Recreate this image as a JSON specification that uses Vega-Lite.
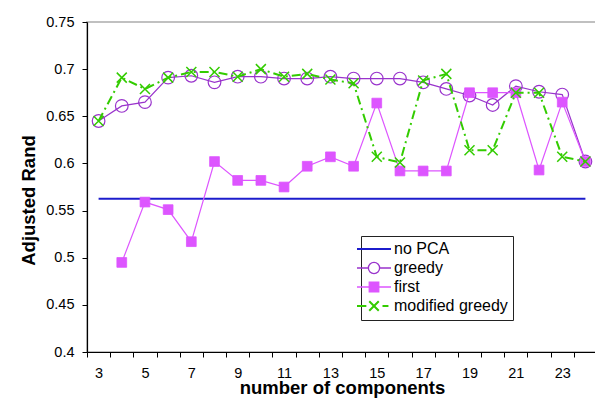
{
  "$schema": "https://vega.github.io/schema/vega-lite/v6.json",
  "autosize": "none",
  "width": 510,
  "height": 330,
  "padding": {"left": 87, "top": 22, "right": 0, "bottom": 52},
  "background": "white",
  "config": {
    "view": {"stroke": "#c0c0c0", "strokeWidth": 2},
    "font": "Liberation Sans",
    "axis": {"labelFont": "Liberation Sans", "titleFont": "Liberation Sans", "labelColor": "black", "titleColor": "black", "domainColor": "black", "tickColor": "black", "grid": false},
    "legend": {
      "orient": "none", "legendX": 274, "legendY": 214,
      "fillColor": "white", "strokeColor": "#222222", "padding": 5,
      "labelFont": "Liberation Sans", "labelFontSize": 16, "labelColor": "black",
      "labelOffset": 12, "rowPadding": 2, "symbolSize": 1156, "labelLimit": 200
    }
  },
  "datasets": {
    "nopca": [{"n": 3, "value": 0.5626}, {"n": 24, "value": 0.5626}],
    "greedy": [
      {"n": 3, "value": 0.645}, {"n": 4, "value": 0.661}, {"n": 5, "value": 0.665}, {"n": 6, "value": 0.691},
      {"n": 7, "value": 0.693}, {"n": 8, "value": 0.686}, {"n": 9, "value": 0.692}, {"n": 10, "value": 0.692},
      {"n": 11, "value": 0.690}, {"n": 12, "value": 0.690}, {"n": 13, "value": 0.692}, {"n": 14, "value": 0.690},
      {"n": 15, "value": 0.690}, {"n": 16, "value": 0.690}, {"n": 17, "value": 0.686}, {"n": 18, "value": 0.679},
      {"n": 19, "value": 0.672}, {"n": 20, "value": 0.662}, {"n": 21, "value": 0.682}, {"n": 22, "value": 0.676},
      {"n": 23, "value": 0.673}, {"n": 24, "value": 0.602}
    ],
    "first": [
      {"n": 4, "value": 0.495}, {"n": 5, "value": 0.559}, {"n": 6, "value": 0.551},
      {"n": 7, "value": 0.517}, {"n": 8, "value": 0.602}, {"n": 9, "value": 0.582}, {"n": 10, "value": 0.582},
      {"n": 11, "value": 0.575}, {"n": 12, "value": 0.597}, {"n": 13, "value": 0.607}, {"n": 14, "value": 0.597},
      {"n": 15, "value": 0.664}, {"n": 16, "value": 0.592}, {"n": 17, "value": 0.592}, {"n": 18, "value": 0.592},
      {"n": 19, "value": 0.675}, {"n": 20, "value": 0.675}, {"n": 21, "value": 0.675}, {"n": 22, "value": 0.593},
      {"n": 23, "value": 0.665}, {"n": 24, "value": 0.602}
    ],
    "modified": [
      {"n": 3, "value": 0.645}, {"n": 4, "value": 0.691}, {"n": 5, "value": 0.679}, {"n": 6, "value": 0.691},
      {"n": 7, "value": 0.697}, {"n": 8, "value": 0.697}, {"n": 9, "value": 0.692}, {"n": 10, "value": 0.700},
      {"n": 11, "value": 0.692}, {"n": 12, "value": 0.695}, {"n": 13, "value": 0.689}, {"n": 14, "value": 0.685},
      {"n": 15, "value": 0.607}, {"n": 16, "value": 0.601}, {"n": 17, "value": 0.688}, {"n": 18, "value": 0.695},
      {"n": 19, "value": 0.614}, {"n": 20, "value": 0.614}, {"n": 21, "value": 0.675}, {"n": 22, "value": 0.675},
      {"n": 23, "value": 0.607}, {"n": 24, "value": 0.602}
    ]
  },
  "encoding": {
    "x": {
      "field": "n", "type": "quantitative",
      "scale": {"domain": [2.5, 24.5], "nice": false, "zero": false},
      "axis": {
        "title": "number of components",
        "titleFontSize": 18.5, "titleFontWeight": "bold",
        "titleX": 255, "titleY": 41, "titleBaseline": "alphabetic", "titleAlign": "center",
        "values": [2.5, 3.5, 4.5, 5.5, 6.5, 7.5, 8.5, 9.5, 10.5, 11.5, 12.5, 13.5, 14.5, 15.5, 16.5, 17.5, 18.5, 19.5, 20.5, 21.5, 22.5, 23.5],
        "labelExpr": "(datum.value - 2.5) % 2 == 0 ? toString(datum.value + 0.5) : ''",
        "labelOffset": 11.6, "labelFontSize": 14.5, "labelPadding": 9,
        "tickSize": 5, "domainWidth": 1.2, "labelFlush": false, "labelOverlap": false
      }
    },
    "y": {
      "field": "value", "type": "quantitative",
      "scale": {"domain": [0.4, 0.75], "nice": false, "zero": false},
      "axis": {
        "title": "Adjusted Rand",
        "titleFontSize": 18.5, "titleFontWeight": "bold",
        "titleX": -53, "titleY": 178, "titleBaseline": "alphabetic", "titleAlign": "center", "titleAngle": -90,
        "values": [0.4, 0.45, 0.5, 0.55, 0.6, 0.65, 0.7, 0.75],
        "format": "~g", "labelFontSize": 14.5, "labelPadding": 8,
        "tickSize": 5, "domainWidth": 1.2, "labelFlush": false, "labelOverlap": false
      }
    }
  },
  "layer": [
    {
      "data": {"name": "nopca"},
      "mark": {"type": "line", "strokeWidth": 2},
      "encoding": {
        "color": {
          "datum": "no PCA", "type": "nominal",
          "scale": {"domain": ["no PCA", "greedy", "first", "modified greedy"], "range": ["#1c1ccc", "#9933cc", "#dd55ff", "#33cc00"]},
          "legend": {
            "title": null,
            "encode": {
              "symbols": {
                "update": {
                  "shape": {"signal": "datum.value === 'no PCA' ? 'M-1,0L1,0' : datum.value === 'greedy' ? 'M-1,0L-0.33,0M0.33,0L1,0M0.33,0A0.33,0.33 0 1,1 -0.33,0A0.33,0.33 0 1,1 0.33,0' : datum.value === 'first' ? 'M-1,0L1,0M-0.28,-0.28L0.28,-0.28L0.28,0.28L-0.28,0.28Z' : 'M-1,0L-0.45,0M-0.28,-0.28L0.28,0.28M-0.28,0.28L0.28,-0.28M0.5,0L0.85,0'"},
                  "fill": {"signal": "datum.value === 'first' ? '#dd55ff' : 'transparent'"},
                  "strokeWidth": {"signal": "datum.value === 'greedy' || datum.value === 'first' ? 1.3 : 2"},
                  "size": {"value": 1156},
                  "strokeDash": {"value": []},
                  "opacity": {"value": 1}
                }
              }
            }
          }
        }
      }
    },
    {
      "data": {"name": "greedy"},
      "mark": {"type": "line", "strokeWidth": 1.2},
      "encoding": {"color": {"datum": "greedy", "type": "nominal"}}
    },
    {
      "data": {"name": "greedy"},
      "mark": {"type": "point", "shape": "circle", "filled": false, "size": 160, "strokeWidth": 1.2, "opacity": 1},
      "encoding": {"color": {"datum": "greedy", "type": "nominal"}}
    },
    {
      "data": {"name": "first"},
      "mark": {"type": "line", "strokeWidth": 1.2},
      "encoding": {"color": {"datum": "first", "type": "nominal"}}
    },
    {
      "data": {"name": "first"},
      "mark": {"type": "point", "shape": "square", "filled": false, "fill": "#dd55ff", "fillOpacity": 1, "size": 95, "opacity": 1, "strokeWidth": 0.8},
      "encoding": {"color": {"datum": "first", "type": "nominal"}}
    },
    {
      "data": {"name": "modified"},
      "mark": {"type": "line", "strokeWidth": 2, "strokeDash": [9, 4, 2, 4]},
      "encoding": {"color": {"datum": "modified greedy", "type": "nominal"}}
    },
    {
      "data": {"name": "modified"},
      "mark": {"type": "point", "shape": "M-1,-1L1,1M-1,1L1,-1", "filled": false, "size": 100, "strokeWidth": 1.5, "opacity": 1},
      "encoding": {"color": {"datum": "modified greedy", "type": "nominal"}}
    }
  ]
}
